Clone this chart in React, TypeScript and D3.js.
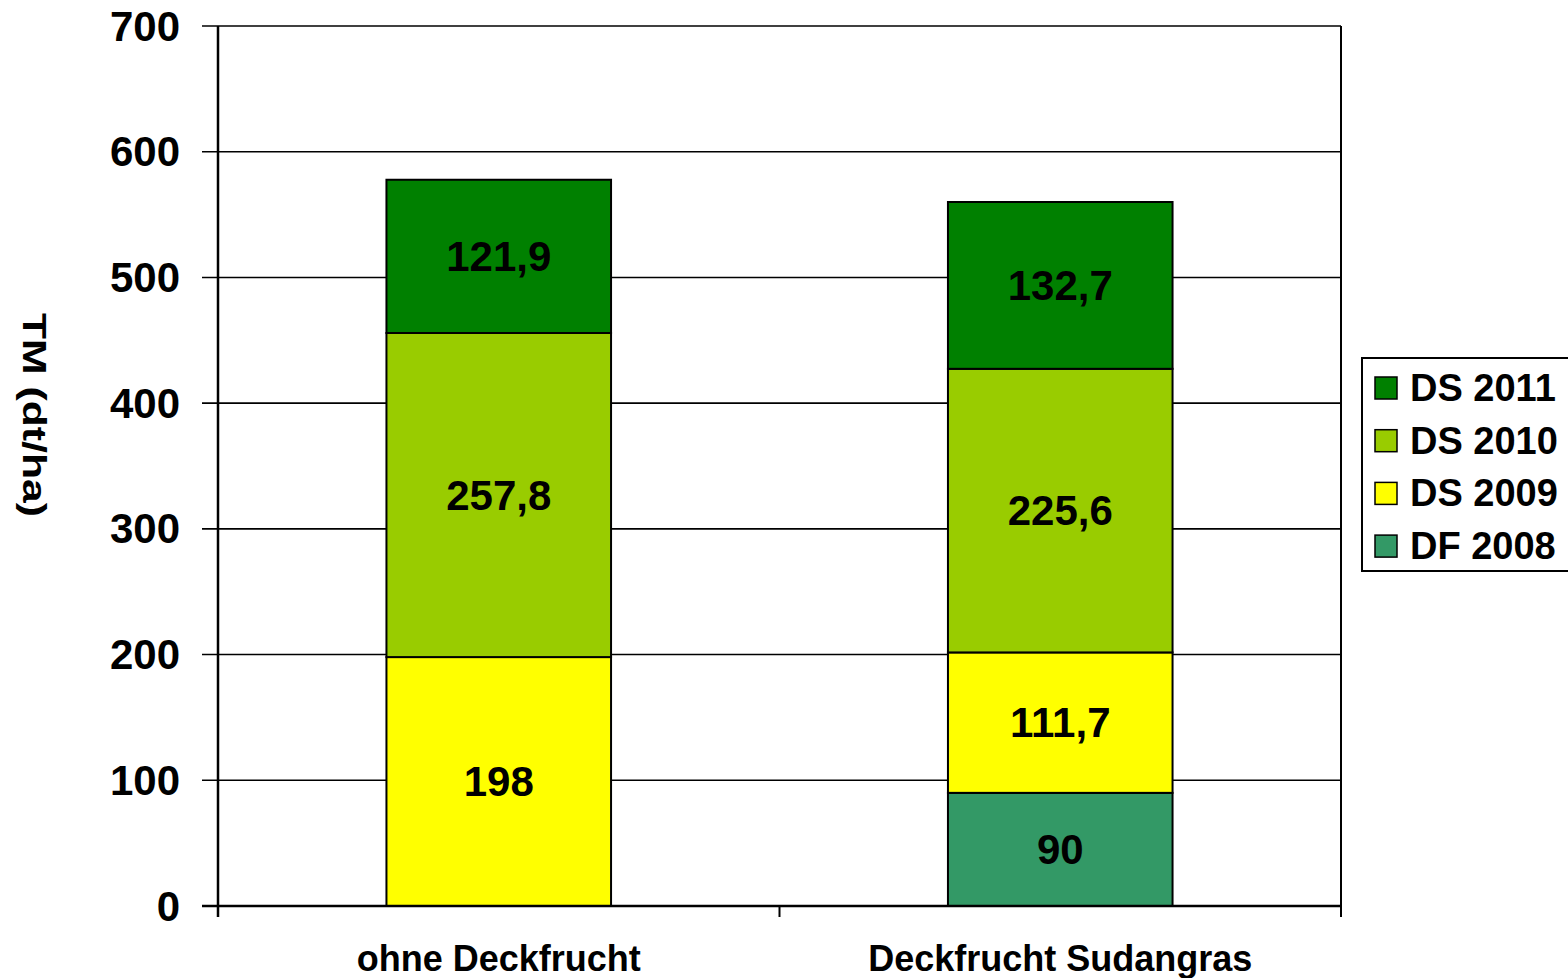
import React from "react";
import * as d3 from "d3";

const categories = ["ohne Deckfrucht", "Deckfrucht Sudangras"];
const seriesNames = ["DF 2008", "DS 2009", "DS 2010", "DS 2011"];
const df2008 = [0, 90];
const ds2009 = [198, 111.7];
const ds2010 = [257.8, 225.6];
const ds2011 = [121.9, 132.7];
const seriesColors = ["#339966", "#FFFF00", "#99CC00", "#008000"];
const yTicks = [0, 100, 200, 300, 400, 500, 600, 700];
const legendOrder = ["DS 2011", "DS 2010", "DS 2009", "DF 2008"];

const W = 1568;
const H = 978;
const FONT = "'Liberation Sans', Arial, sans-serif";

export default function App() {
  const left = 218, right = 1341, top = 26, bottom = 906;
  const y = d3.scaleLinear().domain([0, 700]).range([bottom, top]);
  const x = d3.scaleBand<string>().domain(categories).range([left, right]).paddingInner(0.6).paddingOuter(0.3);

  const rows = categories.map((c, i) => {
    const o: any = { cat: c };
    o["DF 2008"] = df2008[i];
    o["DS 2009"] = ds2009[i];
    o["DS 2010"] = ds2010[i];
    o["DS 2011"] = ds2011[i];
    return o;
  });
  const stacked = d3.stack<any>().keys(seriesNames)(rows);
  const color = d3.scaleOrdinal<string, string>().domain(seriesNames).range(seriesColors);
  const fmt = (v: number) => String(v).replace(".", ",");
  const step = x.step();
  const boundaries = [0, 1, 2].map((i) => left + i * step);

  return (
    <svg width={W} height={H} style={{ position: "absolute", left: 0, top: 0, background: "#fff" }} fontFamily={FONT} fontWeight="bold">
      {yTicks.map((t) => (
        <line key={"g" + t} x1={left - 16} x2={right} y1={y(t)} y2={y(t)} stroke="#000" strokeWidth={1.6} />
      ))}
      <line x1={right} x2={right} y1={top} y2={bottom + 11} stroke="#000" strokeWidth={2} />
      {stacked.map((layer) =>
        layer.map((d, i) => {
          const v = rows[i][layer.key as string] as number;
          if (v <= 0) return null;
          const cat = categories[i];
          const bx = x(cat)!;
          const y0 = y(d[0]);
          const y1 = y(d[1]);
          return (
            <g key={layer.key + i}>
              <rect x={bx} y={y1} width={x.bandwidth()} height={y0 - y1} fill={color(layer.key)} stroke="#000" strokeWidth={2} />
              <text x={bx + x.bandwidth() / 2} y={(y0 + y1) / 2} textAnchor="middle" dominantBaseline="central" fontSize={42} fill="#000">
                {fmt(v)}
              </text>
            </g>
          );
        })
      )}
      <line x1={left} x2={left} y1={top} y2={bottom + 11} stroke="#000" strokeWidth={2.5} />
      <line x1={left - 16} x2={right} y1={bottom} y2={bottom} stroke="#000" strokeWidth={2.5} />
      {boundaries.map((b, i) => (
        <line key={"xt" + i} x1={b} x2={b} y1={bottom} y2={bottom + 11} stroke="#000" strokeWidth={2} />
      ))}
      {yTicks.map((t) => (
        <text key={"yl" + t} x={180} y={y(t)} textAnchor="end" dominantBaseline="central" fontSize={42} fill="#000">
          {t}
        </text>
      ))}
      {categories.map((c) => (
        <text key={c} x={x(c)! + x.bandwidth() / 2} y={958} textAnchor="middle" dominantBaseline="central" fontSize={36} fill="#000">
          {c}
        </text>
      ))}
      <text transform={`translate(34,415) rotate(90)`} textAnchor="middle" dominantBaseline="central" fontSize={33} fill="#000" textLength={204} lengthAdjust="spacingAndGlyphs">
        TM (dt/ha)
      </text>
      <rect x={1362} y={358} width={220} height={213} fill="#fff" stroke="#000" strokeWidth={2} />
      {legendOrder.map((s, i) => {
        const cy = 388 + i * 52.7;
        return (
          <g key={s}>
            <rect x={1375} y={cy - 11} width={22} height={22} fill={color(s)} stroke="#000" strokeWidth={1.5} />
            <text x={1410} y={cy} dominantBaseline="central" fontSize={38} fill="#000">
              {s}
            </text>
          </g>
        );
      })}
    </svg>
  );
}
